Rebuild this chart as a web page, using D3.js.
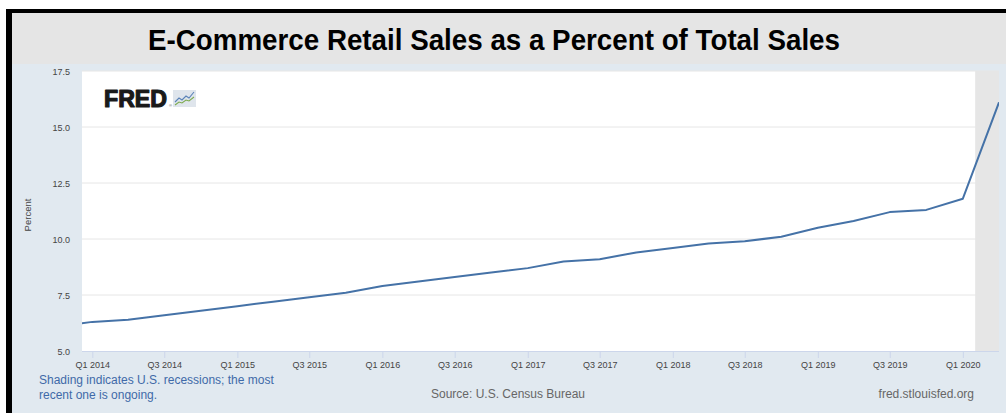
<!DOCTYPE html>
<html>
<head>
<meta charset="utf-8">
<script src="https://cdn.jsdelivr.net/npm/d3@7"></script>
<style>
  html, body { margin: 0; padding: 0; background: #ffffff; }
  svg { display: block; font-family: "Liberation Sans", Arial, sans-serif; }
</style>
</head>
<body>
<svg id="chart" width="1006" height="413"></svg>
<script>
// E-commerce retail sales as a percent of total sales, quarterly (seasonally adjusted)
const quarters = [
  "Q4 2013", "Q1 2014", "Q2 2014", "Q3 2014", "Q4 2014",
  "Q1 2015", "Q2 2015", "Q3 2015", "Q4 2015",
  "Q1 2016", "Q2 2016", "Q3 2016", "Q4 2016",
  "Q1 2017", "Q2 2017", "Q3 2017", "Q4 2017",
  "Q1 2018", "Q2 2018", "Q3 2018", "Q4 2018",
  "Q1 2019", "Q2 2019", "Q3 2019", "Q4 2019",
  "Q1 2020", "Q2 2020"
];
const percentValues = [
  6.1, 6.3, 6.4, 6.6, 6.8,
  7.0, 7.2, 7.4, 7.6,
  7.9, 8.1, 8.3, 8.5,
  8.7, 9.0, 9.1, 9.4,
  9.6, 9.8, 9.9, 10.1,
  10.5, 10.8, 11.2, 11.3,
  11.8, 16.1
];
const xTickLabels = [
  "Q1 2014", "Q3 2014", "Q1 2015", "Q3 2015", "Q1 2016", "Q3 2016", "Q1 2017",
  "Q3 2017", "Q1 2018", "Q3 2018", "Q1 2019", "Q3 2019", "Q1 2020"
];
const yTickValues = [5.0, 7.5, 10.0, 12.5, 15.0, 17.5];
// NBER recession periods (start, end); the latest one is still ongoing
const recessions = [["2020-02-01", "2020-04-01"]];
const viewRange = ["2013-12-06", "2020-04-01"];

const parseQuarter = s => {
  const [q, y] = s.split(" ");
  return new Date(+y, (+q.slice(1) - 1) * 3, 1);
};
const parseDay = d3.timeParse("%Y-%m-%d");
const series = quarters.map((q, i) => ({ date: parseQuarter(q), value: percentValues[i] }));

const svg = d3.select("#chart");
const W = 1006, H = 413;
const plot = { left: 82, right: 999, top: 71, bottom: 351 };

// frame and backgrounds
svg.append("rect").attr("x", 6).attr("y", 9).attr("width", W - 6).attr("height", H - 9).attr("fill", "#000");
svg.append("rect").attr("x", 12).attr("y", 13).attr("width", W - 12).attr("height", 51).attr("fill", "#e5e5e5");
svg.append("rect").attr("x", 12).attr("y", 64).attr("width", W - 12).attr("height", H - 64).attr("fill", "#e1e9f0");

svg.append("text")
  .attr("x", 494).attr("y", 50)
  .attr("text-anchor", "middle")
  .attr("font-size", 29).attr("font-weight", "bold").attr("fill", "#000")
  .attr("textLength", 692).attr("lengthAdjust", "spacingAndGlyphs")
  .text("E-Commerce Retail Sales as a Percent of Total Sales");

const x = d3.scaleTime().domain(viewRange.map(parseDay)).range([plot.left, plot.right]);
const y = d3.scaleLinear().domain([5, 17.5]).range([plot.bottom, plot.top]);

// plot background
svg.append("rect")
  .attr("x", plot.left).attr("y", plot.top)
  .attr("width", plot.right - plot.left).attr("height", plot.bottom - plot.top)
  .attr("fill", "#ffffff");

// horizontal grid
svg.append("g")
  .selectAll("line")
  .data(yTickValues.filter(v => v > 5))
  .join("line")
  .attr("x1", plot.left).attr("x2", plot.right)
  .attr("y1", d => y(d)).attr("y2", d => y(d))
  .attr("stroke", "#e6e6e6").attr("stroke-width", 1);

// recession shading
svg.append("g")
  .selectAll("rect")
  .data(recessions)
  .join("rect")
  .attr("x", d => x(parseDay(d[0])))
  .attr("y", plot.top)
  .attr("width", d => x(parseDay(d[1])) - x(parseDay(d[0])))
  .attr("height", plot.bottom - plot.top)
  .attr("fill", "#e6e6e6");

// y axis labels
const yAxis = d3.axisLeft(y).tickValues(yTickValues).tickFormat(d3.format(".1f")).tickSize(0).tickPadding(12);
const yg = svg.append("g").attr("transform", `translate(${plot.left},1)`).call(yAxis);
yg.select(".domain").remove();
yg.selectAll("text").attr("font-size", 9).attr("fill", "#444").attr("font-family", "Liberation Sans, Arial, sans-serif");

svg.append("text")
  .attr("transform", `translate(31,${(plot.top + plot.bottom) / 2 + 4}) rotate(-90)`)
  .attr("text-anchor", "middle")
  .attr("font-size", 9.5).attr("fill", "#444")
  .text("Percent");

// x axis
const xAxis = d3.axisBottom(x)
  .tickValues(xTickLabels.map(parseQuarter))
  .tickFormat((d, i) => xTickLabels[i])
  .tickSize(7).tickPadding(4);
const xg = svg.append("g").attr("transform", `translate(0,${plot.bottom})`).call(xAxis);
xg.select(".domain").attr("stroke", "#ccd6eb").attr("d", `M${plot.left},0.5H${plot.right}`);
xg.selectAll(".tick line").attr("stroke", "#ccd6eb");
xg.selectAll("text").attr("font-size", 9).attr("fill", "#444").attr("font-family", "Liberation Sans, Arial, sans-serif");

// data line
svg.append("clipPath").attr("id", "plot-clip")
  .append("rect")
  .attr("x", plot.left).attr("y", plot.top - 5)
  .attr("width", plot.right - plot.left).attr("height", plot.bottom - plot.top + 10);

svg.append("path")
  .datum(series)
  .attr("clip-path", "url(#plot-clip)")
  .attr("fill", "none")
  .attr("stroke", "#4572a7")
  .attr("stroke-width", 2)
  .attr("stroke-linejoin", "round")
  .attr("d", d3.line().x(d => x(d.date)).y(d => y(d.value)));

// FRED logo
const logo = svg.append("g").attr("transform", "translate(104,107)");
logo.append("text")
  .attr("x", 0).attr("y", 0)
  .attr("font-size", 23).attr("font-weight", "bold").attr("fill", "#1a1a1a")
  .attr("stroke", "#1a1a1a").attr("stroke-width", 1.2).attr("stroke-linejoin", "round")
  .attr("textLength", 63).attr("lengthAdjust", "spacingAndGlyphs")
  .text("FRED");
logo.append("text").attr("x", 65).attr("y", 0).attr("font-size", 4).attr("fill", "#555").text("®");
logo.append("rect").attr("x", 69).attr("y", -17).attr("width", 23).attr("height", 17).attr("fill", "#dfe5ec");
logo.append("path").attr("d", "M71,-5 L75,-9 L78,-7 L82,-11 L85,-9 L90,-15")
  .attr("fill", "none").attr("stroke", "#5b83b8").attr("stroke-width", 1.1);
logo.append("path").attr("d", "M71,-2 L75,-5 L78,-4 L82,-7 L85,-6 L90,-10")
  .attr("fill", "none").attr("stroke", "#7dab4f").attr("stroke-width", 1.1);

// footer notes
svg.append("text").attr("x", 39).attr("y", 384).attr("font-size", 12).attr("fill", "#3f6aa8")
  .text("Shading indicates U.S. recessions; the most");
svg.append("text").attr("x", 39).attr("y", 399).attr("font-size", 12).attr("fill", "#3f6aa8")
  .text("recent one is ongoing.");
svg.append("text").attr("x", 508).attr("y", 398).attr("text-anchor", "middle").attr("font-size", 12).attr("fill", "#666")
  .text("Source: U.S. Census Bureau");
svg.append("text").attr("x", 974).attr("y", 398).attr("text-anchor", "end").attr("font-size", 12).attr("fill", "#666")
  .text("fred.stlouisfed.org");
</script>
</body>
</html>
